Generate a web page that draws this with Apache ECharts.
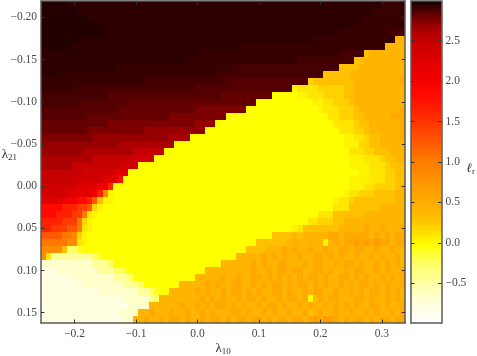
<!DOCTYPE html>
<html><head><meta charset="utf-8">
<style>html,body{margin:0;padding:0;background:#fff}#c{width:477px;height:356px}</style>
<script src="https://cdn.jsdelivr.net/npm/echarts@6/dist/echarts.min.js"></script>
</head><body><div id="c"></div>
<script>
// Axis ranges and tick labels
const xRange = [-0.2546, 0.338];
const yRange = [-0.2195, 0.1622];
const cRange = [-0.99, 2.99];
const xTicks = [-0.2, -0.1, 0.0, 0.1, 0.2, 0.3];
const yTicks = [-0.20, -0.15, -0.10, -0.05, 0.00, 0.05, 0.10, 0.15];
const cTicks = [-0.5, 0.0, 0.5, 1.0, 1.5, 2.0, 2.5];
// Value levels used to read the cells (one letter per level)
const levelChars  = ['v','w','x','y','z','Z','Y','X','W','V','U','T','S','R','Q','P','O','N','M','L','K','J','I','H','G','F','E','D','C','B','A','a'];
const levelValues = [-0.78,-0.65,-0.45,-0.25,-0.1,0,0.04,0.1,0.2,0.3,0.42,0.55,0.7,0.85,1.05,1.25,1.45,1.65,1.85,2.05,2.25,2.4,2.52,2.62,2.7,2.77,2.82,2.86,2.89,2.92,2.945,2.96];
// Colour ramp
const rampValues = [-0.99,-0.78,-0.65,-0.45,-0.25,-0.1,0,0.04,0.1,0.2,0.3,0.42,0.55,0.7,0.85,1.05,1.25,1.45,1.65,1.85,2.05,2.25,2.4,2.52,2.62,2.7,2.77,2.82,2.86,2.89,2.92,2.945,2.96,2.99];
const rampColors = ['#ffffff','#fffee0','#ffffcc','#ffff99','#ffff66','#ffff28','#ffff00','#fff400','#ffe600','#ffd200','#ffc000','#ffb400','#ffa800','#ff9c00','#ff8c00','#ff7800','#ff5800','#ff3c00','#ff2000','#ff0800','#f00000','#e00000','#d00000','#c40000','#ac0000','#960000','#7c0000','#640000','#540000','#440000','#360000','#2c0000','#220000','#000000'];
// Cell rows, top to bottom, 71 columns (groups of ten)
const rows = [
"aaaaaAAAAA AAAAAAAAAA AAAAAAAAAA AAAAAAAAAA AAAAAAAAAA AAAAAAAAAA AAAAAABBBB B",
"aaaaaaaAAA AAAAAAAAAA AAAAAAAAAA AAAAAAAAAA AAAAAAAAAA AAAAAAAAAA AAAAABBBBB B",
"aaaaaaaaaA AAAAAAAAAA AAAAAAAAAA AAAAAAAAAA AAAAAAAAAA AAAAAAAAAA AAABBBBBBB B",
"aaaaaaaaaa aAAAAAAAAA AAAAAAAAAA AAAAAAAAAA AAAAAAAAAA AAAAAAAAAA ABBBBBBBBB B",
"aaaaaaaaaa aaAAAAAAAA AAAAAAAAAA AAAAAAAAAA AAAAAAAAAA AAAAAAAABB BBBBBBBBCC C",
"aaaaaaaaAA AAAAAAAAAA AAAAAAAAAA AAAAAAAAAA AAAAAAAAAA AAABBBBBBB BBBBBBBBBU U",
"aaaaaaAAAA AAAAAAAAAA AAAAAAAAAA AAAAAAAAAB BBBBBBBBBB BBBBBBBBBB BBBBBBBUUU U",
"AAAAAAAAAA AAAAAAAAAA AAAAAAAAAA ABBBBBBBBB BBBBBBBBBB BBBBBBBBCC CCCVUUUUUU U",
"AAAAAAAAAA AAAAAAAAAA AAAAAAAABB BBBBBBBBBB BBBBBBBBBB CCCCCCCCCC CVVUUUUUUU U",
"AAAAAAAAAA AAAAABBBBB BBBBBBBBBB BBBBBBBCCC CCCCCCCCCC CCCCCCCCVV VVUUUUUUUU U",
"AAAABBBBBB BBBBBBBBBB BBBBBBBBBB BBBBCCCCCC CCCCCCCCCC CCCCCVVVVV UUUUUUUUUU U",
"BBBBBBBBBB BBBBBBBBBB CCCCCCCCCC CCCCCCDDDD DDDDDDDDDD DDWVVVVVVV VUUUUUUUUU T",
"BBBBBBBCCC CCCCCCCCCC CCCCCCCCCC DDDDDDDDDD DDDDDDDDDY XXXXWWWWWV VUUUUUUUUU U",
"CCCCCCCCCC CCCDDDDDDD DDDDDDDDDD DDDDDEEEEE EEEEEZZZZZ YYXXXWWWWV VUUUUUUUUU U",
"CCCCCCCCDD DDDDDDDEEE EEEEEEEEEE EEEEEEEEEE EEZZZZZZZZ ZZZYYXXWWW VUUUUUUUUU U",
"DDDDDDDDDD DDDDDEEEEE EEEEEEEEEE FFFFFFFFFF ZZZZZZZZZZ ZZZZYXXXWW WVUUUUUUUU T",
"DDDDDDDDDE EEEEEEEEEE EEEEEFFFFF FFFFFFZZZZ ZZZZZZZZZZ ZZZZZZXXWW WVVUUUUUTT T",
"EEEEEEEEEE EEEFFFFFFF FFFFFFFFFF GGGGZZZZZZ ZZZZZZZZZZ ZZZZZZZXXX XWVVUUUUUU T",
"EEEEEEEEEF FFFFFFFFFF GGGGGGGGGG GGZZZZZZZZ ZZZZZZZZZZ ZZZZZZZZXX XWWVUUUUUU T",
"FFFFFFFFFF GGGGGGGGGG GGGGGHHHHZ ZZZZZZZZZZ ZZZZZZZZZZ ZZZZZZZZZY YXXWVVUUUU T",
"GGGGGGGGGG GGGGGHHHHH HHHHHHZZZZ ZZZZZZZZZZ ZZZZZZZZZZ ZZZZZZZZZY YYWWVVUUUU U",
"GGGGGGGGHH HHHHHHHHII IIIIZZZZZZ ZZZZZZZZZZ ZZZZZZZZZZ ZZZZZZZZZZ XXXWWVVVUU U",
"HHHHHHHHHH IIIIIIIIJJ JJZZZZZZZZ ZZZZZZZZZZ ZZZZZZZZZZ ZZZZZZZZZZ YYYXXXWVVU U",
"HHHHHHIIII IIIIIJJJJZ ZZZZZZZZZZ ZZZZZZZZZZ ZZZZZZZZZZ ZZZZZZZZZZ YYYYXXXWVV V",
"IIIIIIIIJJ JJJJKKKZZZ ZZZZZZZZZZ ZZZZZZZZZZ ZZZZZZZZZZ ZZZZZZZZZZ ZZYYXXXWWV V",
"IIIIIIJJJJ JJKKKMZZZZ ZZZZZZZZZZ ZZZZZZZZZZ ZZZZZZZZZZ ZZZZZZZZZZ YYYYXXXWWV V",
"JJJJJJJKKK KLLNZZZZZZ ZZZZZZZZZZ ZZZZZZZZZZ ZZZZZZZZZZ ZZZZZZZZZZ YYYXXWWWWV U",
"JJJJJKKKKK LNRYZZZZZZ ZZZZZZZZZZ ZZZZZZZZZZ ZZZZZZZZZZ ZZZZZZZZZY XXWWWVVVVU U",
"KKKKLLLMMN PVYYZZZZZZ ZZZZZZZZZZ ZZZZZZZZZZ ZZZZZZZZZZ ZZZZZZZYXX WVVVVVVVVU U",
"MMMMNNNOOP WYZZZZZZZZ ZZZZZZZZZZ ZZZZZZZZZZ ZZZZZZZZZZ ZZZZZZZXXX VVVVVVUUUU U",
"MMMNNNOOQX YZZZZZZZZZ ZZZZZZZZZZ ZZZZZZZZZZ ZZZZZZZZZZ ZZZZXXXVVV VVVUUUUUUU U",
"NNNNOOOQWY ZZZZZZZZZZ ZZZZZZZZZZ ZZZZZZZZZZ ZZZZZZZZZZ ZZXXWWWVVU UUUUUUUUUU U",
"NNOOOPPQXY ZZZZZZZZZZ ZZZZZZZZZZ ZZZZZZZZZZ ZZZZZZZZZY XVVVVVVVUU UUUTUUTUUU T",
"PPPPQQRWYZ ZZZZZZZZZZ ZZZZZZZZZZ ZZZZZZZZZZ ZZZZZVVVVU VUUUUUTTUT TTTTUTUTUT T",
"QQQQQRRXYZ ZZZZZZZZZZ ZZZZZZZZZZ ZZZZZZZZZZ ZZVVVVVVUU UUUUUYUTUT TSTSTSTTUT T",
"RRRRVyyzZZ ZZZZZZZZZZ ZZZZZZZZZZ ZZZZZZZZZZ VVVVUUUTUT UUTUUTUUTT UTTUUTUUTU U",
"RXxxxxxxxx yzZZZZZZZZ ZZZZZZZZZZ ZZZZZZZZUU UUUTUTUTUU TUUTTUTUTU UTUUTUTUUT U",
"wwwwwwwwww xxxyZZZZZZ ZZZZZZZZZZ ZZZZZUUUUU UTUTUUTTUU UTUTTUUTUT TUTUUTUTUT U",
"vvvwwwwwww wxxxyyzZZZ ZZZZZZZZZZ ZZUUUUUUUU UTUUTUTTUT TUUTTUTUUT UTTUUTUTUU T",
"vvvvvvwwww wwwwxxxyZZ ZZZZZZZZZZ UUUUUTUUTU UTTUTUTUTU TUTTUTUUTT UTUTUUTUTU T",
"vvvvvvvvww wwwwwwxxxy ZZZZZZZUUU UUTUTUUTTU UTUTUTTUTU TTUTUTUUTU TUTTUTUTUU T",
"vvvvvvvvvv vwwwwwwwwx xyzZZUUUUU TUTUUTUTTU TUTUUTTUTU UTUTTUUTUU TUTUTTUTUT U",
"vvvvvvvvvv vvvvvvwwww wxyUUUUUUU UTUTUTUUTU TTUTUUTUTT UTZUTUTTUU UTTUTUUTUT U",
"vvvvvvvvvv vvvvvvvwww wUUUUUUTUU TUTUTTUTUT UUTUTTUTUU TUTUUTUTUT UTUUTTUTUU T",
"vvvvvvvvvv vvvvvwwwwU UTUUUTUUTU UTUTUUUTTU TUUTUTUUTU UTVUTUUTUU TUUTUTUUTU T",
"vvvvvvvvvv vvvvvvwwUU TUUTUTTUTU UTUTTUTUTT UTTUTUTTUT TUTSTSSTUT UTTUTUTTUT T"
];
const serif = '"Liberation Serif", serif';
const ink = '#4a4a4a', lineC = '#5a5a5a', tickC = '#333';
const rgb = h => [parseInt(h.slice(1,3),16), parseInt(h.slice(3,5),16), parseInt(h.slice(5,7),16)];
function colorOf(v){
  for (let i = 0; i < rampValues.length - 1; i++) {
    if (v <= rampValues[i+1]) {
      const t = Math.max(0, (v - rampValues[i]) / (rampValues[i+1] - rampValues[i]));
      const a = rgb(rampColors[i]), b = rgb(rampColors[i+1]);
      return 'rgb(' + a.map((c,k) => Math.round(c + (b[k]-c)*t)).join(',') + ')';
    }
  }
  return rampColors[rampColors.length-1];
}
const nCols = 71, nRows = rows.length;
const dx = (xRange[1]-xRange[0]) / nCols, dy = (yRange[1]-yRange[0]) / nRows;
const cells = [];
rows.forEach((s, r) => {
  const row = s.replace(/ /g, '');
  for (let c = 0; c < nCols; c++) {
    const ch = row[c] || row[row.length-1];
    cells.push([xRange[0] + (c+0.5)*dx, yRange[0] + (r+0.5)*dy, levelValues[levelChars.indexOf(ch)]]);
  }
});
const barSteps = [];
for (let i = 0; i < 199; i++) barSteps.push([0, cRange[0] + i*0.02, cRange[0] + (i+1)*0.02]);

const fmt = d => v => (v < -1e-9 ? '\u2212' : '') + Math.abs(v).toFixed(d);
const lbl = (d, extra) => Object.assign({fontFamily: serif, fontSize: 11.5, color: ink, formatter: fmt(d), hideOverlap: false}, extra);
const line = {show:true, onZero:false, lineStyle:{color:lineC, width:1.5}};
const hide = {show:false};
const tick = vals => ({show:true, inside:true, length:3.5, customValues:vals, lineStyle:{color:tickC, width:1}});
const rich = {b:{fontFamily:serif,fontSize:13,color:'#333'}, s:{fontFamily:serif,fontSize:9,color:'#333',verticalAlign:'bottom',padding:[5,0,0,0]}, i:{fontFamily:serif,fontSize:13,fontStyle:'italic',color:'#333'}};

const option = {
  animation:false,
  backgroundColor:'#fff',
  grid:[{left:41,top:1,width:364.2,height:322,outerBoundsMode:'none'},{left:411,top:1,width:30.5,height:322,outerBoundsMode:'none'}],
  xAxis:[
    {type:'value',gridIndex:0,position:'bottom',min:xRange[0],max:xRange[1],z:5,axisLine:line,axisTick:tick(xTicks),splitLine:hide,
     axisLabel:lbl(1,{customValues:xTicks,margin:5}),
     name:'{b|\u03bb}{s|10}',nameLocation:'middle',nameGap:19,nameMoveOverlap:false,nameTextStyle:{rich}},
    {type:'value',gridIndex:0,position:'top',min:xRange[0],max:xRange[1],z:5,axisLine:line,axisTick:tick(xTicks),axisLabel:hide,splitLine:hide},
    {type:'value',gridIndex:1,position:'bottom',min:0,max:1,z:5,axisLine:line,axisTick:hide,axisLabel:hide,splitLine:hide},
    {type:'value',gridIndex:1,position:'top',min:0,max:1,z:5,axisLine:line,axisTick:hide,axisLabel:hide,splitLine:hide}
  ],
  yAxis:[
    {type:'value',gridIndex:0,position:'left',inverse:true,min:yRange[0],max:yRange[1],z:5,axisLine:line,axisTick:tick(yTicks),splitLine:hide,
     axisLabel:lbl(2,{customValues:yTicks,margin:4}),
     name:'{b|\u03bb}{s|21}',nameLocation:'middle',nameGap:24,nameRotate:0,nameMoveOverlap:false,nameTextStyle:{rich,padding:[0,0,14,0]}},
    {type:'value',gridIndex:0,position:'right',inverse:true,min:yRange[0],max:yRange[1],z:5,axisLine:line,axisTick:tick(yTicks),axisLabel:hide,splitLine:hide},
    {type:'value',gridIndex:1,position:'right',min:cRange[0],max:cRange[1],z:5,axisLine:line,axisTick:tick(cTicks),splitLine:hide,
     axisLabel:lbl(1,{customValues:cTicks,margin:4}),
     name:'{i|\u2113}{s|r}',nameLocation:'middle',nameGap:25,nameRotate:0,nameMoveOverlap:false,nameTextStyle:{rich,padding:[14,0,0,0]}},
    {type:'value',gridIndex:1,position:'left',min:cRange[0],max:cRange[1],z:5,axisLine:line,axisTick:tick(cTicks),axisLabel:hide,splitLine:hide}
  ],
  series:[
    {type:'custom',name:'\u2113r',xAxisIndex:0,yAxisIndex:0,z:1,data:cells,silent:true,
     renderItem:(p,api)=>{
       const x=api.value(0),y=api.value(1),v=api.value(2);
       const a=api.coord([x-dx/2,y-dy/2]),b=api.coord([x+dx/2,y+dy/2]);
       const x0=Math.round(a[0]),x1=Math.round(b[0]),y0=Math.round(a[1]),y1=Math.round(b[1]);
       return {type:'rect',shape:{x:x0,y:y0,width:x1-x0,height:y1-y0},style:{fill:colorOf(v)}};
     }},
    {type:'custom',name:'colorbar',xAxisIndex:2,yAxisIndex:2,z:1,data:barSteps,silent:true,
     renderItem:(p,api)=>{
       const lo=api.value(1),hi=api.value(2);
       const a=api.coord([0,lo]),b=api.coord([1,hi]);
       const y0=Math.floor(b[1]),y1=Math.ceil(a[1]);
       return {type:'rect',shape:{x:a[0],y:y0,width:b[0]-a[0],height:y1-y0},style:{fill:colorOf((lo+hi)/2)}};
     }}
  ]
};
const chart = echarts.init(document.getElementById('c'),null,{renderer:'canvas'});
chart.setOption(option);
</script></body></html>
